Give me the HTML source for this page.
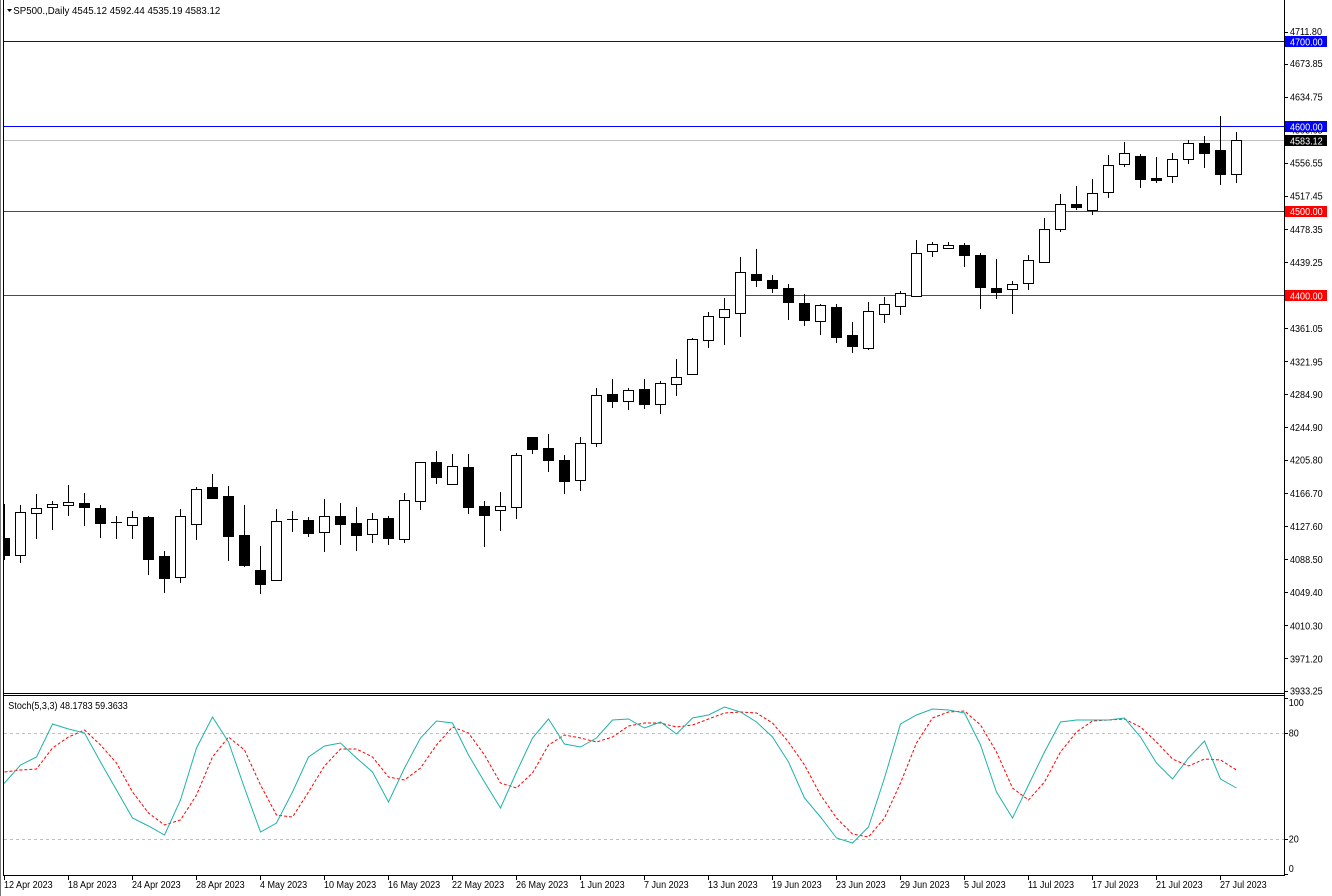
<!DOCTYPE html>
<html>
<head>
<meta charset="utf-8">
<style>
html,body{margin:0;padding:0;background:#fff;}
body{width:1332px;height:896px;overflow:hidden;}
svg{display:block;}
text{font-family:"Liberation Sans",sans-serif;font-size:10px;fill:#000;}
</style>
</head>
<body>
<svg width="1332" height="896" viewBox="0 0 1332 896" xmlns="http://www.w3.org/2000/svg">
<defs>
<clipPath id="cm"><rect x="4" y="0" width="1280" height="693"/></clipPath>
<clipPath id="cs"><rect x="4" y="696" width="1280" height="179"/></clipPath>
</defs>
<rect x="0" y="0" width="1332" height="896" fill="#fff"/>

<!-- window edge -->
<rect x="0" y="0" width="1" height="896" fill="#777"/>

<!-- frame -->
<g shape-rendering="crispEdges" stroke="#000" stroke-width="1" fill="none">
<line x1="3.5" y1="0" x2="3.5" y2="876"/>
<line x1="1284.5" y1="0" x2="1284.5" y2="876"/>
<line x1="3" y1="693.5" x2="1285" y2="693.5"/>
<line x1="3" y1="695.5" x2="1285" y2="695.5"/>
<line x1="3" y1="875.5" x2="1285" y2="875.5"/>
</g>

<!-- main chart -->
<g clip-path="url(#cm)" shape-rendering="crispEdges">
<!-- horizontal lines -->
<line x1="4" y1="41.5" x2="1284" y2="41.5" stroke="#0000ff"/>
<line x1="4" y1="126.5" x2="1284" y2="126.5" stroke="#0000ff"/>
<line x1="4" y1="140.5" x2="1284" y2="140.5" stroke="#c0c0c0"/>
<line x1="4" y1="211.5" x2="1284" y2="211.5" stroke="#ff0000"/>
<line x1="4" y1="295.5" x2="1284" y2="295.5" stroke="#ff0000"/>

<!-- wicks -->
<path stroke="#000" stroke-width="1" fill="none" d="M4.5 504V560M20.5 505V563M36.5 494V539M52.5 501V530M68.5 485V516M84.5 493V526M100.5 505V538M116.5 516V539M132.5 511V539M148.5 516V575M164.5 551V593M180.5 509V583M196.5 487V540M212.5 474V499M228.5 486V561M244.5 505V567M260.5 546V594M276.5 509V581M292.5 511V532M308.5 517V537M324.5 499V552M340.5 503V545M356.5 507V551M372.5 513V543M388.5 516V545M404.5 493V543M420.5 462V510M436.5 451V484M452.5 454V485M468.5 454V514M484.5 501V547M500.5 492V531M516.5 453V519M532.5 437V454M548.5 434V472M564.5 455V494M580.5 437V491M596.5 388V447M612.5 379V408M628.5 388V410M644.5 379V409M660.5 381V414M676.5 359V396M692.5 338V375M708.5 312V348M724.5 298V345M740.5 257V337M756.5 249V287M772.5 275V293M788.5 284V320M804.5 294V326M820.5 304V335M836.5 304V343M852.5 322V353M868.5 302V350M884.5 297V323M900.5 291V315M916.5 240V297M932.5 242V257M948.5 242V249M964.5 243V267M980.5 253V309M996.5 259V299M1012.5 281V314M1028.5 255V290M1044.5 218V263M1060.5 194V232M1076.5 186V210M1092.5 179V215M1108.5 155V198M1124.5 142V167M1140.5 154V188M1156.5 157V183M1172.5 153V183M1188.5 140V164M1204.5 136V168M1220.5 116V185M1236.5 132V183"/>

<!-- doji -->
<path stroke="#000" stroke-width="1" d="M111 522.5H122M287 519.5H298"/>

<!-- white bodies -->
<g fill="#fff" stroke="#000" stroke-width="1">
<rect x="15.5" y="512.5" width="10" height="43"/>
<rect x="31.5" y="508.5" width="10" height="5"/>
<rect x="47.5" y="504.5" width="10" height="3"/>
<rect x="63.5" y="502.5" width="10" height="3"/>
<rect x="127.5" y="517.5" width="10" height="8"/>
<rect x="175.5" y="516.5" width="10" height="61"/>
<rect x="191.5" y="489.5" width="10" height="35"/>
<rect x="271.5" y="521.5" width="10" height="59"/>
<rect x="319.5" y="516.5" width="10" height="16"/>
<rect x="367.5" y="519.5" width="10" height="15"/>
<rect x="399.5" y="500.5" width="10" height="39"/>
<rect x="415.5" y="462.5" width="10" height="39"/>
<rect x="447.5" y="466.5" width="10" height="18"/>
<rect x="495.5" y="506.5" width="10" height="4"/>
<rect x="511.5" y="455.5" width="10" height="52"/>
<rect x="575.5" y="443.5" width="10" height="37"/>
<rect x="591.5" y="395.5" width="10" height="48"/>
<rect x="623.5" y="390.5" width="10" height="11"/>
<rect x="655.5" y="383.5" width="10" height="21"/>
<rect x="671.5" y="377.5" width="10" height="7"/>
<rect x="687.5" y="339.5" width="10" height="35"/>
<rect x="703.5" y="316.5" width="10" height="24"/>
<rect x="719.5" y="309.5" width="10" height="8"/>
<rect x="735.5" y="272.5" width="10" height="41"/>
<rect x="815.5" y="305.5" width="10" height="16"/>
<rect x="863.5" y="311.5" width="10" height="37"/>
<rect x="879.5" y="304.5" width="10" height="10"/>
<rect x="895.5" y="293.5" width="10" height="13"/>
<rect x="911.5" y="253.5" width="10" height="43"/>
<rect x="927.5" y="244.5" width="10" height="7"/>
<rect x="943.5" y="245.5" width="10" height="3"/>
<rect x="1007.5" y="284.5" width="10" height="5"/>
<rect x="1023.5" y="260.5" width="10" height="23"/>
<rect x="1039.5" y="229.5" width="10" height="33"/>
<rect x="1055.5" y="204.5" width="10" height="25"/>
<rect x="1087.5" y="193.5" width="10" height="17"/>
<rect x="1103.5" y="165.5" width="10" height="27"/>
<rect x="1119.5" y="153.5" width="10" height="11"/>
<rect x="1167.5" y="159.5" width="10" height="17"/>
<rect x="1183.5" y="143.5" width="10" height="16"/>
<rect x="1231.5" y="140.5" width="10" height="34"/>
</g>

<!-- black bodies -->
<g fill="#000">
<rect x="-1" y="538" width="11" height="18"/>
<rect x="79" y="503" width="11" height="5"/>
<rect x="95" y="508" width="11" height="16"/>
<rect x="143" y="517" width="11" height="43"/>
<rect x="159" y="556" width="11" height="23"/>
<rect x="207" y="487" width="11" height="12"/>
<rect x="223" y="496" width="11" height="41"/>
<rect x="239" y="535" width="11" height="31"/>
<rect x="255" y="570" width="11" height="15"/>
<rect x="303" y="520" width="11" height="14"/>
<rect x="335" y="516" width="11" height="9"/>
<rect x="351" y="523" width="11" height="13"/>
<rect x="383" y="518" width="11" height="21"/>
<rect x="431" y="462" width="11" height="16"/>
<rect x="463" y="467" width="11" height="41"/>
<rect x="479" y="506" width="11" height="10"/>
<rect x="527" y="437" width="11" height="13"/>
<rect x="543" y="448" width="11" height="13"/>
<rect x="559" y="460" width="11" height="22"/>
<rect x="607" y="394" width="11" height="8"/>
<rect x="639" y="389" width="11" height="16"/>
<rect x="751" y="274" width="11" height="7"/>
<rect x="767" y="280" width="11" height="9"/>
<rect x="783" y="288" width="11" height="15"/>
<rect x="799" y="303" width="11" height="18"/>
<rect x="831" y="307" width="11" height="31"/>
<rect x="847" y="335" width="11" height="12"/>
<rect x="959" y="245" width="11" height="11"/>
<rect x="975" y="255" width="11" height="33"/>
<rect x="991" y="288" width="11" height="5"/>
<rect x="1071" y="204" width="11" height="4"/>
<rect x="1135" y="156" width="11" height="24"/>
<rect x="1151" y="178" width="11" height="3"/>
<rect x="1199" y="143" width="11" height="11"/>
<rect x="1215" y="150" width="11" height="25"/>
</g>
</g>

<!-- header -->
<polygon points="7,9 12,9 9.5,12" fill="#000"/>
<text x="13.3" y="14" textLength="207" lengthAdjust="spacingAndGlyphs">SP500.,Daily  4545.12 4592.44 4535.19 4583.12</text>

<!-- price axis ticks -->
<path stroke="#000" stroke-width="1" shape-rendering="crispEdges" d="M1285 32.5H1288M1285 64.5H1288M1285 97.5H1288M1285 130.5H1288M1285 163.5H1288M1285 196.5H1288M1285 229.5H1288M1285 262.5H1288M1285 295.5H1288M1285 328.5H1288M1285 361.5H1288M1285 394.5H1288M1285 427.5H1288M1285 460.5H1288M1285 493.5H1288M1285 526.5H1288M1285 559.5H1288M1285 592.5H1288M1285 625.5H1288M1285 658.5H1288M1285 691.5H1288"/>

<!-- price axis labels -->
<g>
<text transform="translate(1290,35.1) scale(0.905,1)">4711.80</text>
<text transform="translate(1290,67.2) scale(0.905,1)">4673.85</text>
<text transform="translate(1290,100.4) scale(0.905,1)">4634.75</text>
<text transform="translate(1290,133.5) scale(0.905,1)">4595.65</text>
<text transform="translate(1290,166.6) scale(0.905,1)">4556.55</text>
<text transform="translate(1290,199.7) scale(0.905,1)">4517.45</text>
<text transform="translate(1290,232.8) scale(0.905,1)">4478.35</text>
<text transform="translate(1290,266.0) scale(0.905,1)">4439.25</text>
<text transform="translate(1290,332.2) scale(0.905,1)">4361.05</text>
<text transform="translate(1290,365.3) scale(0.905,1)">4321.95</text>
<text transform="translate(1290,398.2) scale(0.905,1)">4284.90</text>
<text transform="translate(1290,431.0) scale(0.905,1)">4244.90</text>
<text transform="translate(1290,463.7) scale(0.905,1)">4205.80</text>
<text transform="translate(1290,496.8) scale(0.905,1)">4166.70</text>
<text transform="translate(1290,529.9) scale(0.905,1)">4127.60</text>
<text transform="translate(1290,563.0) scale(0.905,1)">4088.50</text>
<text transform="translate(1290,596.2) scale(0.905,1)">4049.40</text>
<text transform="translate(1290,629.3) scale(0.905,1)">4010.30</text>
<text transform="translate(1290,662.4) scale(0.905,1)">3971.20</text>
<text transform="translate(1290,694.5) scale(0.905,1)">3933.25</text>
</g>

<!-- price boxes -->
<g shape-rendering="crispEdges">
<rect x="1285" y="36" width="42" height="11" fill="#0000ff"/>
<rect x="1285" y="121" width="42" height="11" fill="#0000ff"/>
<rect x="1285" y="135" width="42" height="11" fill="#000000"/>
<rect x="1285" y="206" width="42" height="11" fill="#ff0000"/>
<rect x="1285" y="290" width="42" height="11" fill="#ff0000"/>
</g>
<g style="fill:#fff">
<text style="fill:#fff" transform="translate(1290,45.3) scale(0.905,1)">4700.00</text>
<text style="fill:#fff" transform="translate(1290,130.3) scale(0.905,1)">4600.00</text>
<text style="fill:#fff" transform="translate(1290,144.6) scale(0.905,1)">4583.12</text>
<text style="fill:#fff" transform="translate(1290,215.2) scale(0.905,1)">4500.00</text>
<text style="fill:#fff" transform="translate(1290,299.4) scale(0.905,1)">4400.00</text>
</g>

<!-- stochastic panel -->
<g clip-path="url(#cs)">
<g shape-rendering="crispEdges" stroke="#c0c0c0" stroke-width="1" stroke-dasharray="3 3">
<line x1="4" y1="733.5" x2="1284" y2="733.5"/>
<line x1="4" y1="839.5" x2="1284" y2="839.5"/>
</g>
<polyline fill="none" stroke="#ff0000" stroke-width="1" stroke-dasharray="3 2" points="4.5,772 20.5,770 36.5,769 52.5,748 68.5,737 84.5,730 100.5,745 116.5,763 132.5,792 148.5,813 164.5,825 180.5,820 196.5,795 212.5,757 228.5,737 244.5,750 260.5,785 276.5,815 292.5,817 308.5,792 324.5,766 340.5,749 356.5,749 372.5,757 388.5,777 404.5,780 420.5,768 436.5,745 452.5,727 468.5,733 484.5,755 500.5,783 516.5,788 532.5,773 548.5,745 564.5,735 580.5,738 596.5,742 612.5,737 628.5,726 644.5,723 660.5,723 676.5,727 692.5,725 708.5,719 724.5,713 740.5,712 756.5,713 772.5,723 788.5,742 804.5,765 820.5,795 836.5,818 852.5,834 868.5,837 884.5,818 900.5,783 916.5,743 932.5,718 948.5,712 964.5,711 980.5,725 996.5,752 1012.5,788 1028.5,800 1044.5,782 1060.5,752 1076.5,732 1092.5,721 1108.5,720 1124.5,719 1140.5,727 1156.5,742 1172.5,759 1188.5,766 1204.5,759 1220.5,760 1236.5,770"/>
<polyline fill="none" stroke="#20b2aa" stroke-width="1" points="3,784 4.5,783 20.5,765 36.5,757 52.5,724 68.5,729 84.5,733 100.5,762 116.5,790 132.5,818 148.5,826 164.5,835 180.5,800 196.5,748 212.5,717 228.5,742 244.5,788 260.5,832 276.5,823 292.5,792 308.5,757 324.5,746 340.5,743 356.5,758 372.5,772 388.5,802 404.5,768 420.5,738 436.5,721 452.5,723 468.5,755 484.5,782 500.5,808 516.5,772 532.5,738 548.5,719 564.5,744 580.5,747 596.5,738 612.5,720 628.5,719 644.5,728 660.5,722 676.5,734 692.5,718 708.5,715 724.5,707 740.5,712 756.5,722 772.5,737 788.5,762 804.5,798 820.5,817 836.5,838 852.5,843 868.5,827 884.5,778 900.5,724 916.5,715 932.5,709 948.5,710 964.5,713 980.5,745 996.5,792 1012.5,818 1028.5,785 1044.5,752 1060.5,722 1076.5,720 1092.5,720 1108.5,720 1124.5,718 1140.5,737 1156.5,763 1172.5,779 1188.5,758 1204.5,741 1220.5,779 1236.5,788"/>
</g>
<text transform="translate(8.3,709) scale(0.905,1)">Stoch(5,3,3) 48.1783 59.3633</text>

<!-- stoch axis -->
<path stroke="#000" stroke-width="1" shape-rendering="crispEdges" d="M1285 698.5H1288M1285 733.5H1288M1285 839.5H1288M1285 874.5H1288"/>
<text transform="translate(1288.7,706.2) scale(0.905,1)">100</text>
<text transform="translate(1288.7,736.6) scale(0.905,1)">80</text>
<text transform="translate(1288.7,842.6) scale(0.905,1)">20</text>
<text transform="translate(1288.7,871.8) scale(0.905,1)">0</text>

<!-- time axis ticks -->
<path stroke="#000" stroke-width="1" shape-rendering="crispEdges" d="M4.5 876V880M68.5 876V880M132.5 876V880M196.5 876V880M260.5 876V880M324.5 876V880M388.5 876V880M452.5 876V880M516.5 876V880M580.5 876V880M644.5 876V880M708.5 876V880M772.5 876V880M836.5 876V880M900.5 876V880M964.5 876V880M1028.5 876V880M1092.5 876V880M1156.5 876V880M1220.5 876V880"/>
<g>
<text transform="translate(4,888) scale(0.905,1)">12 Apr 2023</text>
<text transform="translate(68,888) scale(0.905,1)">18 Apr 2023</text>
<text transform="translate(132,888) scale(0.905,1)">24 Apr 2023</text>
<text transform="translate(196,888) scale(0.905,1)">28 Apr 2023</text>
<text transform="translate(260,888) scale(0.905,1)">4 May 2023</text>
<text transform="translate(324,888) scale(0.905,1)">10 May 2023</text>
<text transform="translate(388,888) scale(0.905,1)">16 May 2023</text>
<text transform="translate(452,888) scale(0.905,1)">22 May 2023</text>
<text transform="translate(516,888) scale(0.905,1)">26 May 2023</text>
<text transform="translate(580,888) scale(0.905,1)">1 Jun 2023</text>
<text transform="translate(644,888) scale(0.905,1)">7 Jun 2023</text>
<text transform="translate(708,888) scale(0.905,1)">13 Jun 2023</text>
<text transform="translate(772,888) scale(0.905,1)">19 Jun 2023</text>
<text transform="translate(836,888) scale(0.905,1)">23 Jun 2023</text>
<text transform="translate(900,888) scale(0.905,1)">29 Jun 2023</text>
<text transform="translate(964,888) scale(0.905,1)">5 Jul 2023</text>
<text transform="translate(1028,888) scale(0.905,1)">11 Jul 2023</text>
<text transform="translate(1092,888) scale(0.905,1)">17 Jul 2023</text>
<text transform="translate(1156,888) scale(0.905,1)">21 Jul 2023</text>
<text transform="translate(1220,888) scale(0.905,1)">27 Jul 2023</text>
</g>
</svg>
</body>
</html>
